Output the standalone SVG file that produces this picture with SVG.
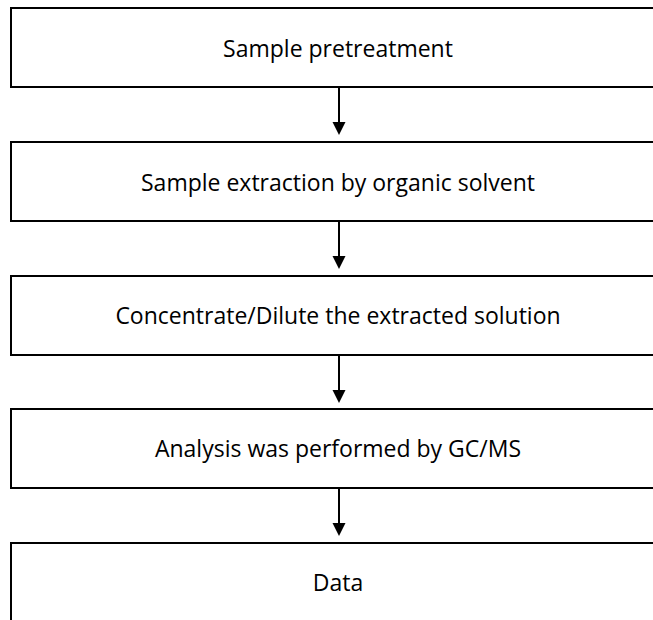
<svg xmlns="http://www.w3.org/2000/svg" width="653" height="620" viewBox="0 0 653 620">
<style>
.box{fill:#fff;stroke:#000;stroke-width:2}
.t{font-family:"Open Sans","Noto Sans",sans-serif;font-size:23px;fill:#000;text-anchor:middle}
.c{stroke:#000;stroke-width:2;fill:none}
.h{fill:#000}
</style>
<rect width="653" height="620" fill="#fff"/>
<g id="n1"><rect class="box" x="11" y="8" width="700" height="79"/><text class="t" x="338" y="57">Sample pretreatment</text></g>
<g id="n2"><rect class="box" x="11" y="142" width="700" height="79"/><text class="t" x="338" y="191">Sample extraction by organic solvent</text></g>
<g id="n3"><rect class="box" x="11" y="276" width="700" height="79"/><text class="t" x="338" y="324">Concentrate/Dilute the extracted solution</text></g>
<g id="n4"><rect class="box" x="11" y="409" width="700" height="79"/><text class="t" x="338" y="457">Analysis was performed by GC/MS</text></g>
<g id="n5"><rect class="box" x="11" y="543" width="700" height="100"/><text class="t" x="338" y="591">Data</text></g>
<g id="connectors">
<line class="c" x1="339" y1="87" x2="339" y2="124"/><path class="h" d="M332.5,122 L345.5,122 L339,135 Z"/>
<line class="c" x1="339" y1="221" x2="339" y2="258"/><path class="h" d="M332.5,256 L345.5,256 L339,269 Z"/>
<line class="c" x1="339" y1="355" x2="339" y2="392"/><path class="h" d="M332.5,390 L345.5,390 L339,403 Z"/>
<line class="c" x1="339" y1="488" x2="339" y2="525"/><path class="h" d="M332.5,523 L345.5,523 L339,536 Z"/>
</g>
</svg>
